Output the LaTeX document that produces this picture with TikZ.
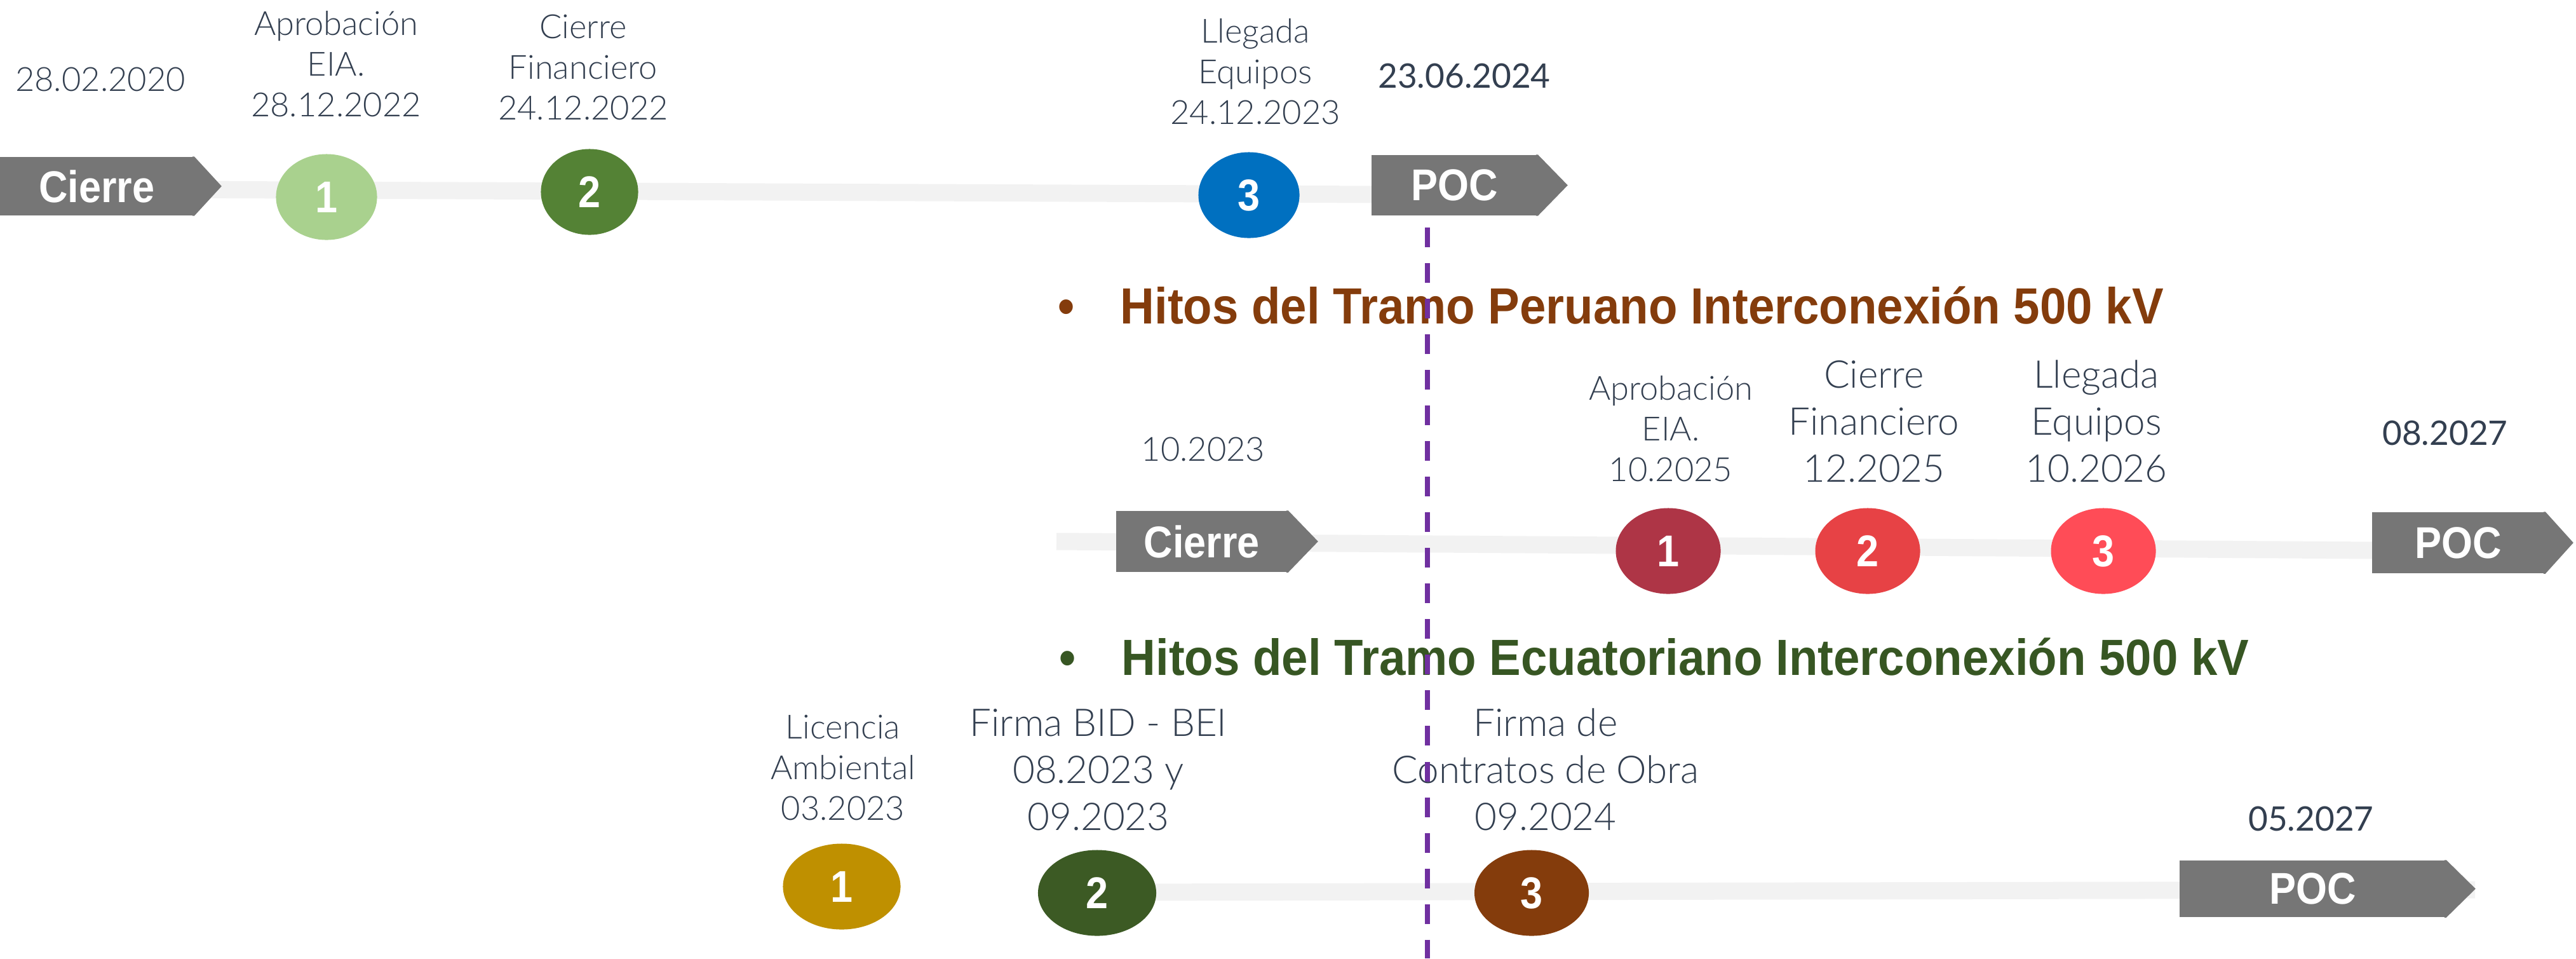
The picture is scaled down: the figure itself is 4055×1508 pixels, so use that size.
\documentclass[tikz,border=0pt]{standalone}
\usepackage{fontspec}
\usetikzlibrary{shapes.geometric}
\newfontfamily\latolight{Lato Light}
\newfontfamily\latoreg{Lato}
\newfontfamily\tagfont{Liberation Sans}[FakeStretch=0.9]
\newfontfamily\headfont{Liberation Sans}[FakeStretch=0.93]
\definecolor{txtgray}{HTML}{333F50}
\definecolor{boxgray}{HTML}{767676}
\definecolor{bargray}{HTML}{F2F2F2}
\definecolor{cutline}{HTML}{7030A0}
\definecolor{peru}{HTML}{843C0C}
\definecolor{ecua}{HTML}{375623}
\tikzset{
	lbl/.style={font=\latolight\fontsize{14.9}{18.2}\selectfont, text=txtgray, align=center, inner sep=0pt, anchor=south},
	lblbig/.style={lbl, font=\latolight\fontsize{17.1}{21.1}\selectfont},
	datum/.style={font=\latoreg\fontsize{15.1}{18}\selectfont, text=txtgray, inner sep=0pt, anchor=base},
	tagbox/.style={fill=boxgray, text=white, font=\tagfont\bfseries\fontsize{19.9}{22}\selectfont, inner sep=0pt},
	hito/.style={ellipse, inner sep=0pt, text=white, font=\tagfont\bfseries\fontsize{19.9}{22}\selectfont, minimum height=1.35cm},
	bar/.style={line width=0.27cm, draw=bargray},
	heading/.style={font=\headfont\bfseries\fontsize{22.76}{26}\selectfont, inner sep=0pt, anchor=base west},
}
\begin{document}
\begin{tikzpicture}[x=0.01cm,y=-0.01cm]
	\useasboundingbox (0,0) rectangle (4055,1508);
	\coordinate (BarAMin) at (0,297);
	\coordinate (BarAMax) at (2170,306);
	\coordinate (BarBMin) at (1663,852);
	\coordinate (BarBMax) at (3740,866);
	\coordinate (BarCMin) at (1727,1404);
	\coordinate (BarCMax) at (3896,1400);
	\coordinate (CutTop) at (2247,358);
	\coordinate (CutBottom) at (2247,1508);
	\draw[bar] (BarAMin) -- (BarAMax);% linea superior
	\draw[bar] (BarBMin) -- (BarBMax);% tramo peruano
	\draw[bar] (BarCMin) -- (BarCMax);% tramo ecuatoriano
	
	% flechas Cierre / POC
	\node[tagbox, minimum width=3.05cm, minimum height=0.92cm] (CierreA) at (152.5,293) {Cierre};
	\node[tagbox, minimum width=2.61cm, minimum height=0.95cm] (PocA) at (2289.5,291.5) {POC};
	\node[tagbox, minimum width=2.70cm, minimum height=0.96cm] (CierreB) at (1892,852) {Cierre};
	\node[tagbox, minimum width=2.72cm, minimum height=0.96cm] (PocB) at (3870,854) {POC};
	\node[tagbox, minimum width=4.19cm, minimum height=0.89cm] (PocC) at (3640.5,1398.5) {POC};
	\foreach \n/\t in {CierreA/0.43,PocA/0.47,CierreB/0.47,PocB/0.44,PocC/0.46}
		\fill[boxgray] ([xshift=-0.03cm]\n.north east) -- (\n.north east) -- ([xshift=\t cm]\n.east) -- (\n.south east) -- ([xshift=-0.03cm]\n.south east) -- cycle;
	
	% hitos
	\node[hito, minimum width=1.59cm, fill={rgb,255:red,169;green,209;blue,142}] (HitoA1) at (514,310) {1};
	\node[hito, minimum width=1.53cm, fill={rgb,255:red,84;green,130;blue,53}] (HitoA2) at (928,302) {2};
	\node[hito, minimum width=1.59cm, fill={rgb,255:red,0;green,112;blue,192}] (HitoA3) at (1966,307) {3};
	\node[hito, minimum width=1.65cm, fill={rgb,255:red,174;green,53;blue,70}] (HitoB1) at (2626,867) {1};
	\node[hito, minimum width=1.65cm, fill={rgb,255:red,231;green,66;blue,69}] (HitoB2) at (2940,867) {2};
	\node[hito, minimum width=1.65cm, fill={rgb,255:red,255;green,76;blue,87}] (HitoB3) at (3311,867) {3};
	\node[hito, minimum width=1.85cm, fill={rgb,255:red,191;green,144;blue,0}] (HitoC1) at (1325,1395) {1};
	\node[hito, minimum width=1.86cm, fill={rgb,255:red,60;green,90;blue,36}] (HitoC2) at (1727,1405) {2};
	\node[hito, minimum width=1.80cm, fill=peru] (HitoC3) at (2411,1405) {3};
	
	% textos
	\node[lbl, anchor=base] (FechaA0) at (158,143) {28.02.2020};
	\node[lbl] (TextoA1) at (529,185) {Aprobación\\EIA.\\28.12.2022};
	\node[lbl] (TextoA2) at (918,190) {Cierre\\Financiero\\24.12.2022};
	\node[lbl] (TextoA3) at (1976,197) {Llegada\\Equipos\\24.12.2023};
	\node[datum] (FechaA4) at (2305,138) {23.06.2024};
	
	\node[heading, text=peru] (TituloB) at (1763,509) {\llap{\textbullet\hspace{0.72cm}}Hitos del Tramo Peruano Interconexión 500 kV};
	\node[lbl, anchor=base] (FechaB0) at (1894,725) {10.2023};
	\node[lbl] (TextoB1) at (2630,759) {Aprobación\\EIA.\\10.2025};
	\node[lblbig] (TextoB2) at (2950,760) {Cierre\\Financiero\\12.2025};
	\node[lblbig] (TextoB3) at (3300,760) {Llegada\\Equipos\\10.2026};
	\node[datum] (FechaB4) at (3849,700) {08.2027};
	
	\node[heading, text=ecua] (TituloC) at (1765,1062) {\llap{\textbullet\hspace{0.72cm}}Hitos del Tramo Ecuatoriano Interconexión 500 kV};
	\node[lbl] (TextoC1) at (1327,1292) {Licencia\\Ambiental\\03.2023};
	\node[lblbig] (TextoC2) at (1729,1308) {Firma BID - BEI\\08.2023 y\\09.2023};
	\node[lblbig] (TextoC3) at (2433,1308) {Firma de\\Contratos de Obra\\09.2024};
	\node[datum] (FechaC4) at (3638,1307) {05.2027};
	
	\draw[cutline, line width=0.08cm, dash pattern=on 0.31cm off 0.25cm] (CutTop) -- (CutBottom);
\end{tikzpicture}
\end{document}
